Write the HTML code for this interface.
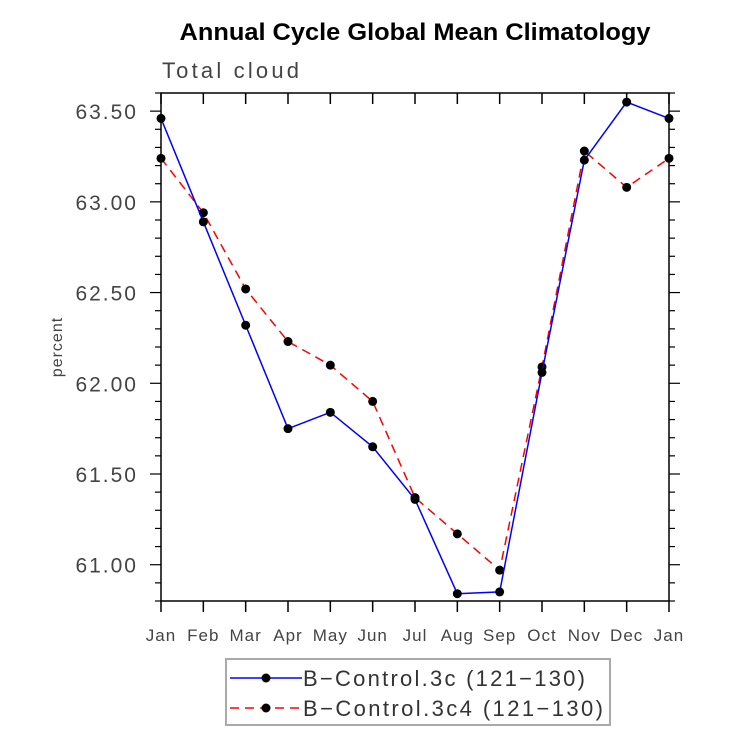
<!DOCTYPE html>
<html><head><meta charset="utf-8"><style>body{margin:0;background:#fff}svg{display:block}</style></head>
<body>
<svg id="chart" width="733" height="734" xmlns="http://www.w3.org/2000/svg" font-family="Liberation Sans, sans-serif">
<text x="415" y="40" text-anchor="middle" font-size="24" font-weight="bold" textLength="471" lengthAdjust="spacingAndGlyphs">Annual Cycle Global Mean Climatology</text>
<text x="162" y="78" font-size="22" fill="#444" textLength="137" lengthAdjust="spacing">Total cloud</text>
<text transform="translate(62,347) rotate(-90)" text-anchor="middle" font-size="16" fill="#444" letter-spacing="1">percent</text>
<g id="axes"></g>
<g id="series"></g>
<g>
<rect x="226" y="659" width="384" height="66" fill="none" stroke="#aaa" stroke-width="2"/>
<line x1="230" y1="678" x2="302" y2="678" stroke="#00f" stroke-width="1.5"/>
<circle cx="266" cy="678" r="4.5"/>
<text x="303" y="686" font-size="22" fill="#333" textLength="282" lengthAdjust="spacing">B−Control.3c (121−130)</text>
<line x1="230" y1="708" x2="302" y2="708" stroke="#f00" stroke-width="1.5" stroke-dasharray="9,6"/>
<circle cx="266" cy="708" r="4.5"/>
<text x="303" y="716" font-size="22" fill="#333" textLength="300" lengthAdjust="spacing">B−Control.3c4 (121−130)</text>
</g>
</svg>
<script>
const months=["Jan","Feb","Mar","Apr","May","Jun","Jul","Aug","Sep","Oct","Nov","Dec","Jan"];
const seriesA=[63.46,62.89,62.32,61.75,61.84,61.65,61.36,60.84,60.85,62.06,63.23,63.55,63.46];
const seriesB=[63.24,62.94,62.52,62.23,62.10,61.90,61.37,61.17,60.97,62.09,63.28,63.08,63.24];
const yTicks=[61.0,61.5,62.0,62.5,63.0,63.5];
const yTickLabels=["61.00","61.50","62.00","62.50","63.00","63.50"];
const NS="http://www.w3.org/2000/svg";
const L=161,R=669,T=93,B=601,ymin=60.8,ymax=63.6;
const xs=i=>L+(R-L)*i/(months.length-1);
const ys=v=>B-(B-T)*(v-ymin)/(ymax-ymin);
function mk(tag,attrs,parent){const e=document.createElementNS(NS,tag);for(const k in attrs)e.setAttribute(k,attrs[k]);parent.appendChild(e);return e;}
const ax=document.getElementById('axes');
const frame=mk('rect',{x:L,y:T,width:R-L,height:B-T,fill:'none',stroke:'#000','stroke-width':1.5},ax);


months.forEach((m,i)=>{const x=xs(i);
mk('line',{x1:x,y1:B,x2:x,y2:B+11,stroke:'#000','stroke-width':1.5},ax);
mk('line',{x1:x,y1:T,x2:x,y2:T+11,stroke:'#000','stroke-width':1.5},ax);
const t=mk('text',{x:x,y:B+40,'text-anchor':'middle','font-size':17,fill:'#444','letter-spacing':1},ax);t.textContent=m;

});
for(let k=0;k<=28;k++){const v=60.8+k*0.1,y=ys(v);const major=Math.abs((v*2)-Math.round(v*2))<1e-6;const len=major?11:6;
mk('line',{x1:L-len,y1:y,x2:L,y2:y,stroke:'#000','stroke-width':1.2},ax);
mk('line',{x1:R,y1:y,x2:R+len,y2:y,stroke:'#000','stroke-width':1.2},ax);}
yTicks.forEach((v,i)=>{const t=mk('text',{x:L-23,y:ys(v)+8,'text-anchor':'end','font-size':21,fill:'#444','letter-spacing':2},ax);t.textContent=yTickLabels[i];

});
const sg=document.getElementById('series');
function draw(vals,color,dash,name){
const p=mk('polyline',{points:vals.map((v,i)=>xs(i)+','+ys(v)).join(' '),fill:'none',stroke:color,'stroke-width':1.5,'stroke-dasharray':dash},sg);


vals.forEach((v,i)=>{const c=mk('circle',{cx:xs(i),cy:ys(v),r:4.5,fill:'#000'},sg);

});}
draw(seriesB,'#f00','9,6','control-3c4');
draw(seriesA,'#00f','none','control-3c');
</script>
</body></html>
